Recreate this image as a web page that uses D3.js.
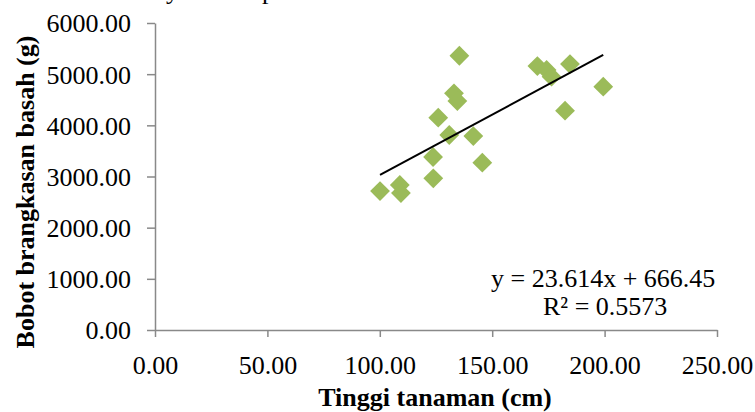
<!DOCTYPE html>
<html>
<head>
<meta charset="utf-8">
<script src="https://cdn.jsdelivr.net/npm/d3@7.9.0/dist/d3.min.js"></script>
<style>
  html, body { margin: 0; padding: 0; background: #fff; }
  svg { display: block; font-family: "Liberation Serif", "Times New Roman", serif; }
</style>
</head>
<body>
<div id="chart"></div>
<script>
// tinggi tanaman (cm)
const heights = [100.1, 108.9, 109.4, 123.8, 123.7, 145.6, 135.4, 133.0, 134.5,
                 126.0, 130.9, 141.6, 170.1, 174.2, 176.4, 184.6, 199.4, 182.4];
// bobot brangkasan basah (g)
const weights = [2716, 2834, 2677, 2964, 3381, 3270, 5360, 4626, 4475,
                 4149, 3811, 3791, 5159, 5081, 4950, 5198, 4755, 4286];
const xTicks = [0, 50, 100, 150, 200, 250];
const yTicks = [0, 1000, 2000, 3000, 4000, 5000, 6000];
// linear trend shown on the chart
const slope = 23.614;
const intercept = 666.45;
const eqLines = ['y = 23.614x + 666.45', 'R\u00b2 = 0.5573'];

const width = 755;
const height = 412;
const margin = { top: 23, right: 38, bottom: 82, left: 155 };

const points = heights.map((h, i) => ({ x: h, y: weights[i] }));

const svg = d3.select('#chart').append('svg')
  .attr('width', width)
  .attr('height', height);

const xScale = d3.scaleLinear()
  .domain([0, 250])
  .range([margin.left, width - margin.right]);

const yScale = d3.scaleLinear()
  .domain([0, 6000])
  .range([height - margin.bottom, margin.top]);

const fmt = d3.format('.2f');
const axisColor = '#898989';

// cut-off caption above the chart
svg.append('text')
  .attr('x', 166)
  .attr('y', -1)
  .attr('font-size', 26)
  .text('y terhadap');

// axes
const xAxis = svg.append('g')
  .attr('transform', `translate(0,${height - margin.bottom})`)
  .call(d3.axisBottom(xScale).tickValues(xTicks).tickFormat(fmt).tickSize(7).tickSizeOuter(0).tickPadding(19));

const yAxis = svg.append('g')
  .attr('transform', `translate(${margin.left},0)`)
  .call(d3.axisLeft(yScale).tickValues(yTicks).tickFormat(fmt).tickSize(8).tickSizeOuter(0).tickPadding(16));

[xAxis, yAxis].forEach((g) => {
  g.select('.domain').attr('stroke', axisColor).attr('stroke-width', 1.5);
  g.selectAll('.tick line').attr('stroke', axisColor).attr('stroke-width', 1.5);
  g.selectAll('.tick text')
    .attr('fill', '#000')
    .attr('font-size', 26)
    .attr('font-family', '"Liberation Serif", "Times New Roman", serif');
});
yAxis.selectAll('.tick text').attr('dy', '0.34em');

// points
svg.append('g')
  .selectAll('path')
  .data(points)
  .join('path')
  .attr('d', d3.symbol(d3.symbolSquare, 196))
  .attr('transform', (d) => `translate(${xScale(d.x)},${yScale(d.y)}) rotate(45)`)
  .attr('fill', '#9bbb59');

// trendline
const [xMin, xMax] = d3.extent(heights);
svg.append('line')
  .attr('x1', xScale(xMin))
  .attr('y1', yScale(slope * xMin + intercept))
  .attr('x2', xScale(xMax))
  .attr('y2', yScale(slope * xMax + intercept))
  .attr('stroke', '#000')
  .attr('stroke-width', 2);

// equation
svg.append('text').attr('x', 491).attr('y', 287).attr('font-size', 26).text(eqLines[0]);
svg.append('text').attr('x', 543).attr('y', 315).attr('font-size', 26).text(eqLines[1]);

// axis titles
svg.append('text')
  .attr('x', 435)
  .attr('y', 406)
  .attr('text-anchor', 'middle')
  .attr('font-size', 26)
  .attr('font-weight', 'bold')
  .text('Tinggi tanaman (cm)');

svg.append('text')
  .attr('transform', 'translate(34,192) rotate(-90)')
  .attr('text-anchor', 'middle')
  .attr('font-size', 26)
  .attr('font-weight', 'bold')
  .text('Bobot brangkasan basah (g)');
</script>
</body>
</html>
